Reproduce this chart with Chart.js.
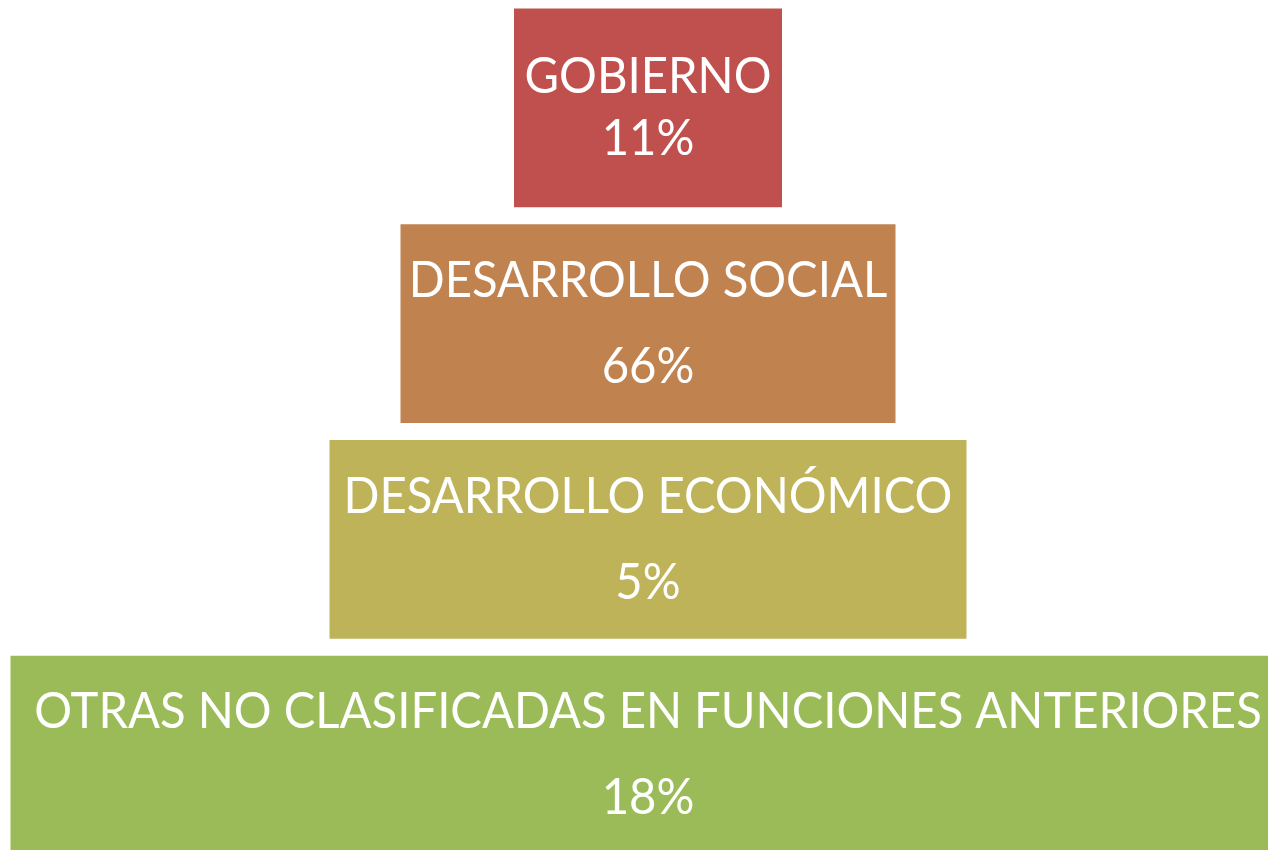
<!DOCTYPE html>
<html>
<head>
<meta charset="utf-8">
<script src="https://cdn.jsdelivr.net/npm/chart.js@4/dist/chart.umd.min.js"></script>
<style>
  html, body { margin: 0; padding: 0; background: #fff; overflow: hidden; }
  #wrap { width: 1268px; height: 863px; }
</style>
</head>
<body>
<div id="wrap"><canvas id="piramide"></canvas></div>
<script>
// datos del grafico
var funciones = ['GOBIERNO', 'DESARROLLO SOCIAL', 'DESARROLLO ECONÓMICO', 'OTRAS NO CLASIFICADAS EN FUNCIONES ANTERIORES'];
var porcentajes = [11, 66, 5, 18];
// ancho de cada nivel de la piramide (mitad), no es el valor
var nivelMitad = [134, 247.5, 318.5, 637.5];
var colores = ['#C0504D', '#C08350', '#BFB35A', '#9BBB59'];

// etiquetas dentro de cada barra
var etiquetas = {
  id: 'etiquetas',
  afterDraw: function(chart) {
    var ctx = chart.ctx;
    var meta = chart.getDatasetMeta(0);
    ctx.save();
    ctx.fillStyle = '#fff';
    ctx.textAlign = 'center';
    ctx.textBaseline = 'middle';
    ctx.font = '50px Lato';
    for (var i = 0; i < meta.data.length; i++) {
      var bar = meta.data[i];
      var cx = (bar.x + bar.base) / 2;
      var sep = (i == 0) ? 31 : 43;
      ctx.save();
      ctx.translate(cx, bar.y);
      ctx.scale(0.945, 1); // letra mas angosta, tipo Calibri
      ctx.fillText(funciones[i], 0, -sep);
      ctx.fillText(porcentajes[i] + '%', 0, sep);
      ctx.restore();
    }
    ctx.restore();
  }
};

var datos = [];
for (var i = 0; i < nivelMitad.length; i++) {
  datos.push([-nivelMitad[i], nivelMitad[i]]);
}

new Chart(document.getElementById('piramide'), {
  type: 'bar',
  data: {
    labels: funciones,
    datasets: [{
      data: datos,
      backgroundColor: colores,
      borderWidth: 0,
      barPercentage: 0.922,
      categoryPercentage: 1
    }]
  },
  options: {
    indexAxis: 'y',
    responsive: true,
    maintainAspectRatio: false,
    animation: false,
    layout: { padding: 0 },
    plugins: { legend: { display: false }, tooltip: { enabled: false } },
    scales: {
      x: { display: false, min: -648, max: 620 },
      y: { display: false }
    }
  },
  plugins: [etiquetas]
});
</script>
</body>
</html>
